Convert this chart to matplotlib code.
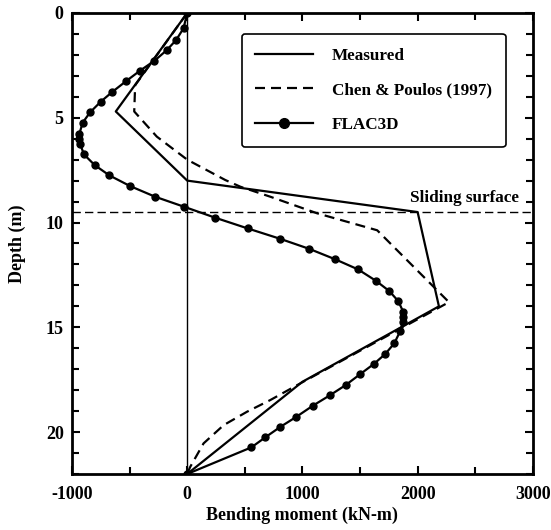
import numpy as np
import matplotlib
matplotlib.use("Agg")
import matplotlib.pyplot as plt
from matplotlib.ticker import MultipleLocator

plt.rcParams['font.family'] = 'Liberation Serif'
plt.rcParams['font.weight'] = 'bold'
plt.rcParams['axes.labelweight'] = 'bold'
plt.rcParams['axes.unicode_minus'] = False

# Measured bending moment profile
meas_depth = [0, 4.7, 8.0, 9.5, 14.0, 17.6, 22]
meas_moment = [0, -620, 0, 2000, 2185, 1000, 0]

# Chen & Poulos (1997) solution
cp_depth = [0, 3.45, 4.7, 5.9, 7.0, 7.97, 8.29, 8.77, 9.56, 10.37, 13.8,
            17.76, 18.47, 19.03, 19.67, 20.54, 21.66, 22]
cp_moment = [0, -452, -460, -264, 0, 330, 461, 722, 1128, 1649, 2272,
             954, 722, 519, 316, 142, 26, 0]

# FLAC3D numerical results
flac_depth = [0, 0.73, 1.29, 1.77, 2.28, 2.75, 3.25, 3.76, 4.23, 4.74,
              5.23, 5.78, 6.03, 6.25, 6.75, 7.26, 7.75, 8.26, 8.77, 9.25,
              9.77, 10.28, 10.77, 11.26, 11.76, 12.24, 12.78, 13.27, 13.75,
              14.26, 14.5, 14.73, 15.17, 15.77, 16.28, 16.75, 17.25, 17.76,
              18.25, 18.74, 19.27, 19.75, 20.25, 20.73, 22]
flac_moment = [0, -32, -96, -177, -284, -409, -530, -649, -750, -843,
               -907, -937, -937, -930, -896, -803, -676, -496, -278, -26,
               243, 524, 803, 1061, 1287, 1484, 1638, 1754, 1832,
               1875, 1875, 1872, 1850, 1797, 1718, 1620, 1498, 1375,
               1237, 1091, 948, 809, 678, 557, 0]

sliding_depth = 9.5

fig = plt.figure(figsize=(5.51, 5.30), dpi=100)
ax = fig.add_axes([0.1307, 0.1057, 0.8363, 0.8698])

ax.axvline(0, color='black', lw=1.0)
ax.axhline(sliding_depth, color='black', lw=1.0, ls=(0, (6, 3)))

ax.plot(meas_moment, meas_depth, color='black', lw=1.6, label='Measured')
ax.plot(cp_moment, cp_depth, color='black', lw=1.6, ls=(0, (4.5, 2.7)),
        label='Chen & Poulos (1997)')
ax.plot(flac_moment, flac_depth, color='black', lw=1.6, marker='o', ms=5,
        label='FLAC3D')

ax.text(2880, sliding_depth - 0.3, 'Sliding surface', ha='right',
        va='bottom', fontsize=12.3)

ax.set_xlim(-1000, 3000)
ax.set_ylim(22, 0)
ax.xaxis.set_major_locator(MultipleLocator(1000))
ax.xaxis.set_minor_locator(MultipleLocator(500))
ax.yaxis.set_major_locator(MultipleLocator(5))
ax.yaxis.set_minor_locator(MultipleLocator(1))
ax.tick_params(which='both', direction='in', top=True, right=True,
               width=1.5, labelsize=13)
ax.tick_params(axis='x', which='both', pad=9)
ax.tick_params(axis='y', which='both', pad=6)
ax.tick_params(which='major', length=6)
ax.tick_params(which='minor', length=5)
for s in ax.spines.values():
    s.set_linewidth(2)

ax.set_xlabel('Bending moment (kN-m)', fontsize=13, labelpad=2)
ax.set_ylabel('Depth (m)', fontsize=13, labelpad=14)

leg = ax.legend(loc='upper right', bbox_to_anchor=(0.9414, 0.9544),
                borderaxespad=0, fontsize=12.3, handlelength=3.4,
                handletextpad=1.1, labelspacing=1.1, borderpad=0.8,
                fancybox=True, framealpha=1, edgecolor='black',
                markerscale=1.4)
leg.get_frame().set_linewidth(1.2)

fig.savefig('out.png', dpi=100)
